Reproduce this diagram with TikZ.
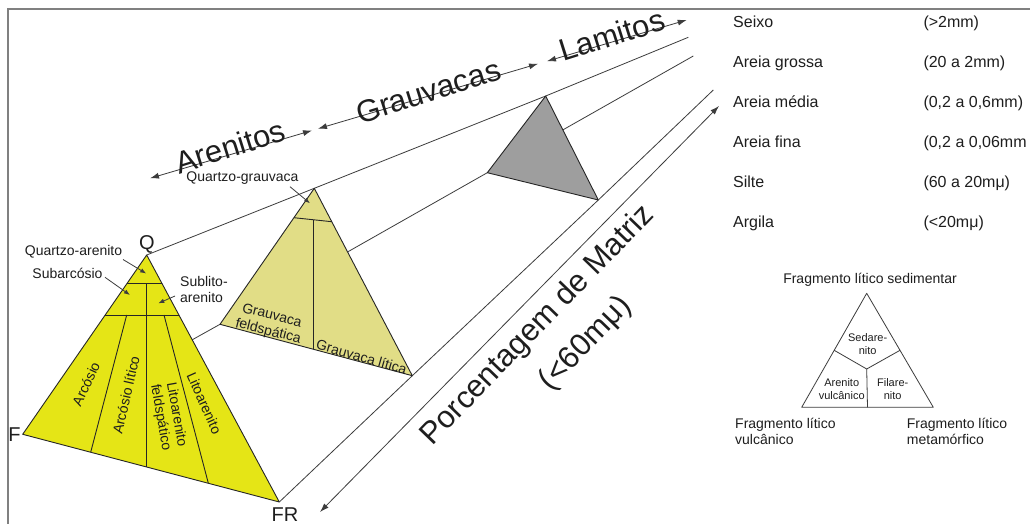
\documentclass[tikz,border=0pt]{standalone}
\usepackage{fontspec}
\setmainfont{Liberation Sans}
\usetikzlibrary{arrows.meta,calc}
\definecolor{yel}{RGB}{229,229,22}
\definecolor{khaki}{RGB}{225,221,134}
\definecolor{stone}{RGB}{158,158,158}
\definecolor{ink}{RGB}{30,30,30}
\definecolor{wire}{RGB}{60,60,60}
\definecolor{framegray}{RGB}{128,128,128}
\begin{document}
\begin{tikzpicture}[x=1pt,y=-1pt,
  conn/.style={draw=wire, line width=0.8pt},
  triline/.style={draw=black!85, line width=0.9pt, line join=round},
  dbl/.style={conn, {Latex[length=9pt,width=6pt]}-{Latex[length=9pt,width=6pt]}},
  ptr/.style={conn, -{Latex[length=6pt,width=4.5pt]}},
  bigtext/.style={font=\fontsize{31}{36}\selectfont, inner sep=0pt, text=ink},
  midtext/.style={font=\fontsize{14}{16}\selectfont, inner sep=0pt, text=ink},
  legtext/.style={font=\fontsize{16}{18}\selectfont, inner sep=0pt, text=ink, anchor=base west},
  smalltext/.style={font=\fontsize{11}{12.5}\selectfont, inner sep=0pt, text=ink, align=center},
  vtxtext/.style={font=\fontsize{20}{22}\selectfont, inner sep=0pt, text=ink},
]
\useasboundingbox (0,0) rectangle (1030,524);
\fill[white] (0,0) rectangle (1030,524);

% outer frame (top and left)
\draw[framegray, line width=2pt] (8.3,524) -- (8.3,9.2) -- (1030,9.2);

% triangle vertices
\coordinate (Q)  at (146.7,255);
\coordinate (F)  at (22.7,434.3);
\coordinate (FR) at (279.3,502);
\coordinate (M)  at (314.3,188.3);
\coordinate (ML) at (220,324.3);
\coordinate (MR) at (412.3,375.7);
\coordinate (G)  at (545.7,96);
\coordinate (GL) at (487.3,172.7);
\coordinate (GR) at (598.3,200);
\coordinate (Qend)  at (688.3,37.3);
\coordinate (Fend)  at (693.3,56);
\coordinate (FRend) at (713.3,90);

% guide lines joining homologous vertices
\draw[conn] (Q) -- (M) -- (G) -- (Qend);
\draw[conn] (F) -- (ML) -- (GL) -- (Fend);
\draw[conn] (FR) -- (MR) -- (GR) -- (FRend);

% sandstone triangle
\draw[triline, fill=yel] (Q) -- (F) -- (FR) -- cycle;
\draw[triline] (127.1,283.3) -- (161.9,283.3);
\draw[triline] (105.2,315) -- (178.9,315);
\draw[triline] (146.5,283.3) -- (146.5,466.8);
\draw[triline] (126.7,315) -- (90.7,452.2);
\draw[triline] (164,315) -- (208.3,483.1);

% greywacke triangle
\draw[triline, fill=khaki] (M) -- (ML) -- (MR) -- cycle;
\draw[triline] (293.9,217.7) -- (331.8,221.7);
\draw[triline] (313.3,219.6) -- (313.3,349.2);

% mudrock triangle
\draw[triline, fill=stone] (G) -- (GL) -- (GR) -- cycle;

% vertex letters
\node[vtxtext] (lq) at (147,244) {Q};
\node[vtxtext] (lf) at (14.5,435) {F};
\node[vtxtext] (lfr) at (285,514.5) {FR};

% class arrows along the top
\coordinate (a1) at (150,178.3);
\coordinate (a2) at (312,130.5);
\coordinate (a3) at (318,128.7);
\coordinate (a4) at (538,63.8);
\coordinate (a5) at (547,61.2);
\coordinate (a6) at (686.7,20);
\draw[dbl] (a1) -- (a2);
\draw[dbl] (a3) -- (a4);
\draw[dbl] (a5) -- (a6);
\node[bigtext, rotate=17.5] (tAren) at (230,146.5) {Arenitos};
\node[bigtext, rotate=17.5] (tGrau) at (428.3,91.5) {Grauvacas};
\node[bigtext, rotate=17.5] (tLam) at (611.7,35) {Lamitos};

% matrix percentage arrow
\coordinate (m1) at (320,512);
\coordinate (m2) at (719,106);
\draw[dbl] (m1) -- (m2);
\node[bigtext, rotate=46, align=center, font=\fontsize{31}{47}\selectfont]
  (tPor) at (555,342) {Porcentagem de Matriz\\\hspace*{40pt}(<60mμ)};

% sandstone labels with pointers
\node[midtext] (qa) at (73.5,252) {Quartzo-arenito};
\node[midtext] (sa) at (67.5,273) {Subarcósio};
\node[midtext, align=left, anchor=west] (sl) at (180,289.5) {Sublito-\\arenito};
\coordinate (qaT) at (123,259.5);   \coordinate (qaH) at (146.2,273.5);
\coordinate (saT) at (105,277.3);   \coordinate (saH) at (130,295);
\coordinate (slT) at (175,296);     \coordinate (slH) at (158.3,303.3);
\draw[ptr] (qaT) -- (qaH);
\draw[ptr] (saT) -- (saH);
\draw[ptr] (slT) -- (slH);

\node[midtext, rotate=65] (ar) at (86,384) {Arcósio};
\node[midtext, rotate=77] (al) at (126,395) {Arcósio lítico};
\node[midtext, rotate=-80, align=center] (lfd) at (168.3,416) {Litoarenito\\feldspático};
\node[midtext, rotate=-66] (lit) at (204.3,403.3) {Litoarenito};

% greywacke labels
\node[midtext] (qg) at (242.5,178) {Quartzo-grauvaca};
\coordinate (qgT) at (290,186.7);  \coordinate (qgH) at (310,203.3);
\draw[ptr] (qgT) -- (qgH);
\node[midtext, rotate=-14, align=center] (gf) at (270,324) {Grauvaca\\feldspática};
\node[midtext, rotate=-16] (gl) at (361.7,356.7) {Grauvaca lítica};

% grain size legend
\node[legtext] (s1) at (733,27.8)  {Seixo};
\node[legtext] (s2) at (733,67.8)  {Areia grossa};
\node[legtext] (s3) at (733,107.8) {Areia média};
\node[legtext] (s4) at (733,147.8) {Areia fina};
\node[legtext] (s5) at (733,187.8) {Silte};
\node[legtext] (s6) at (733,227.8) {Argila};
\node[legtext] (r1) at (923.3,27.8)  {(>2mm)};
\node[legtext] (r2) at (923.3,67.8)  {(20 a 2mm)};
\node[legtext] (r3) at (923.3,107.8) {(0,2 a 0,6mm)};
\node[legtext] (r4) at (923.3,147.8) {(0,2 a 0,06mm};
\node[legtext] (r5) at (923.3,187.8) {(60 a 20mμ)};
\node[legtext] (r6) at (923.3,227.8) {(<20mμ)};

% lithic fragment triangle
\coordinate (T)  at (866.7,293.3);
\coordinate (TL) at (801.7,407.3);
\coordinate (TR) at (933.3,407.3);
\coordinate (TC) at (866.7,369);
\draw[triline, draw=wire, line width=0.8pt] (T) -- (TL) -- (TR) -- cycle;
\draw[conn] ($(T)!0.5!(TL)$) -- (TC) -- ($(T)!0.5!(TR)$);
\draw[conn] (TC) -- ($(TL)!0.5!(TR)$);
\node[midtext] (fs) at (870,279.3) {Fragmento lítico sedimentar};
\node[midtext, align=left, anchor=north west] (fv) at (735,418) {Fragmento lítico\\vulcânico};
\node[midtext, align=left, anchor=north west] (fm) at (906.7,418) {Fragmento lítico\\metamórfico};
\node[smalltext] (sed) at (867.7,344) {Sedare-\\nito};
\node[smalltext] (av) at (841.7,389.3) {Arenito\\vulcânico};
\node[smalltext] (fil) at (892.7,389.3) {Filare-\\nito};
\end{tikzpicture}
\end{document}
